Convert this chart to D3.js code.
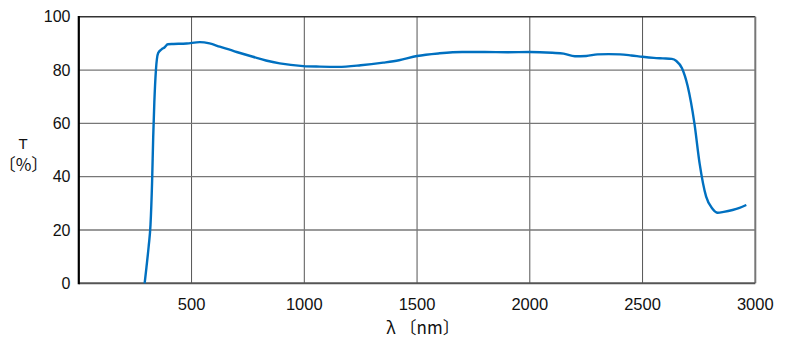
<!DOCTYPE html>
<html><head><meta charset="utf-8">
<script src="https://cdn.jsdelivr.net/npm/d3@7"></script>
<style>body{margin:0;background:#fff}svg{display:block}text{font-family:"Liberation Sans",Arial,sans-serif;fill:#111}</style>
</head><body><svg id="c" width="800" height="347"></svg>
<script>
const wavelength = [292,300,310,318,325,330,335,342,352,367,380,395,420,478,537,580,625,700,772,830,891,995,1069,1150,1250,1350,1420,1500,1600,1700,1800,1900,2000,2100,2150,2200,2250,2300,2350,2400,2450,2500,2550,2590,2630,2650,2675,2700,2730,2753,2782,2810,2833,2860,2899,2930,2960];
const transmittance = [0,6,14,22,38,55,68,80,86.4,87.8,88.5,89.7,89.8,90.0,90.5,90.0,88.8,86.8,85.0,83.6,82.5,81.5,81.3,81.2,81.8,82.8,83.7,85.3,86.3,86.8,86.8,86.7,86.8,86.5,86.2,85.2,85.3,85.9,86.0,85.9,85.5,85.0,84.6,84.4,84.2,83.4,80.7,74,60,45,32.5,28.0,26.5,26.8,27.5,28.3,29.4];
const xTicks = [500,1000,1500,2000,2500,3000];
const yTicks = [0,20,40,60,80,100];

const svg = d3.select("#c");
const L=78.8, R=755.3, T=16.8, B=283.3;
const x = d3.scaleLinear().domain([0,3000]).range([L,R]);
const y = d3.scaleLinear().domain([0,100]).range([B,T]);

// grid
svg.append("g").selectAll("line").data(xTicks.filter(d=>d<3000)).join("line")
  .attr("x1",d=>x(d)).attr("x2",d=>x(d)).attr("y1",T).attr("y2",B)
  .attr("stroke","#555").attr("stroke-width",1);
svg.append("g").selectAll("line").data(yTicks.filter(d=>d>0&&d<100)).join("line")
  .attr("x1",L).attr("x2",R).attr("y1",d=>y(d)).attr("y2",d=>y(d))
  .attr("stroke","#777").attr("stroke-width",1.3);

// frame
svg.append("line").attr("x1",L).attr("x2",R).attr("y1",T).attr("y2",T).attr("stroke","#333").attr("stroke-width",1.5);
svg.append("line").attr("x1",R).attr("x2",R).attr("y1",T).attr("y2",B).attr("stroke","#777").attr("stroke-width",2);
svg.append("line").attr("x1",L).attr("x2",R).attr("y1",B).attr("y2",B).attr("stroke","#555").attr("stroke-width",2);
svg.append("line").attr("x1",L).attr("x2",L).attr("y1",T-0.8).attr("y2",B+1).attr("stroke","#000").attr("stroke-width",2.2);

// tick labels
svg.append("g").selectAll("text").data(yTicks).join("text")
  .attr("x",70.5).attr("y",d=>y(d)+5.5).attr("text-anchor","end").attr("font-size",16).text(d=>d);
svg.append("g").selectAll("text").data(xTicks).join("text")
  .attr("x",d=>x(d)).attr("y",310).attr("text-anchor","middle").attr("font-size",16.5).text(d=>d);

// axis titles
svg.append("text").attr("x",23).attr("y",149).attr("text-anchor","middle").attr("font-size",15).text("T");
svg.append("text").attr("x",23.5).attr("y",171).attr("text-anchor","middle").attr("font-size",17)
  .style("font-family","'Noto Sans CJK JP',sans-serif").text("〔%〕");
svg.append("text").attr("x",423).attr("y",334).attr("text-anchor","middle").attr("font-size",17)
  .style("font-family","'Noto Sans CJK JP',sans-serif").text("λ 〔nm〕");

// curve
const data = wavelength.map((w,i)=>[w,transmittance[i]]);
svg.append("path").datum(data)
  .attr("fill","none").attr("stroke","#0070C0").attr("stroke-width",2.4).attr("stroke-linejoin","round")
  .attr("d",d3.line().x(d=>x(d[0])).y(d=>y(d[1])).curve(d3.curveMonotoneX));
</script></body></html>
